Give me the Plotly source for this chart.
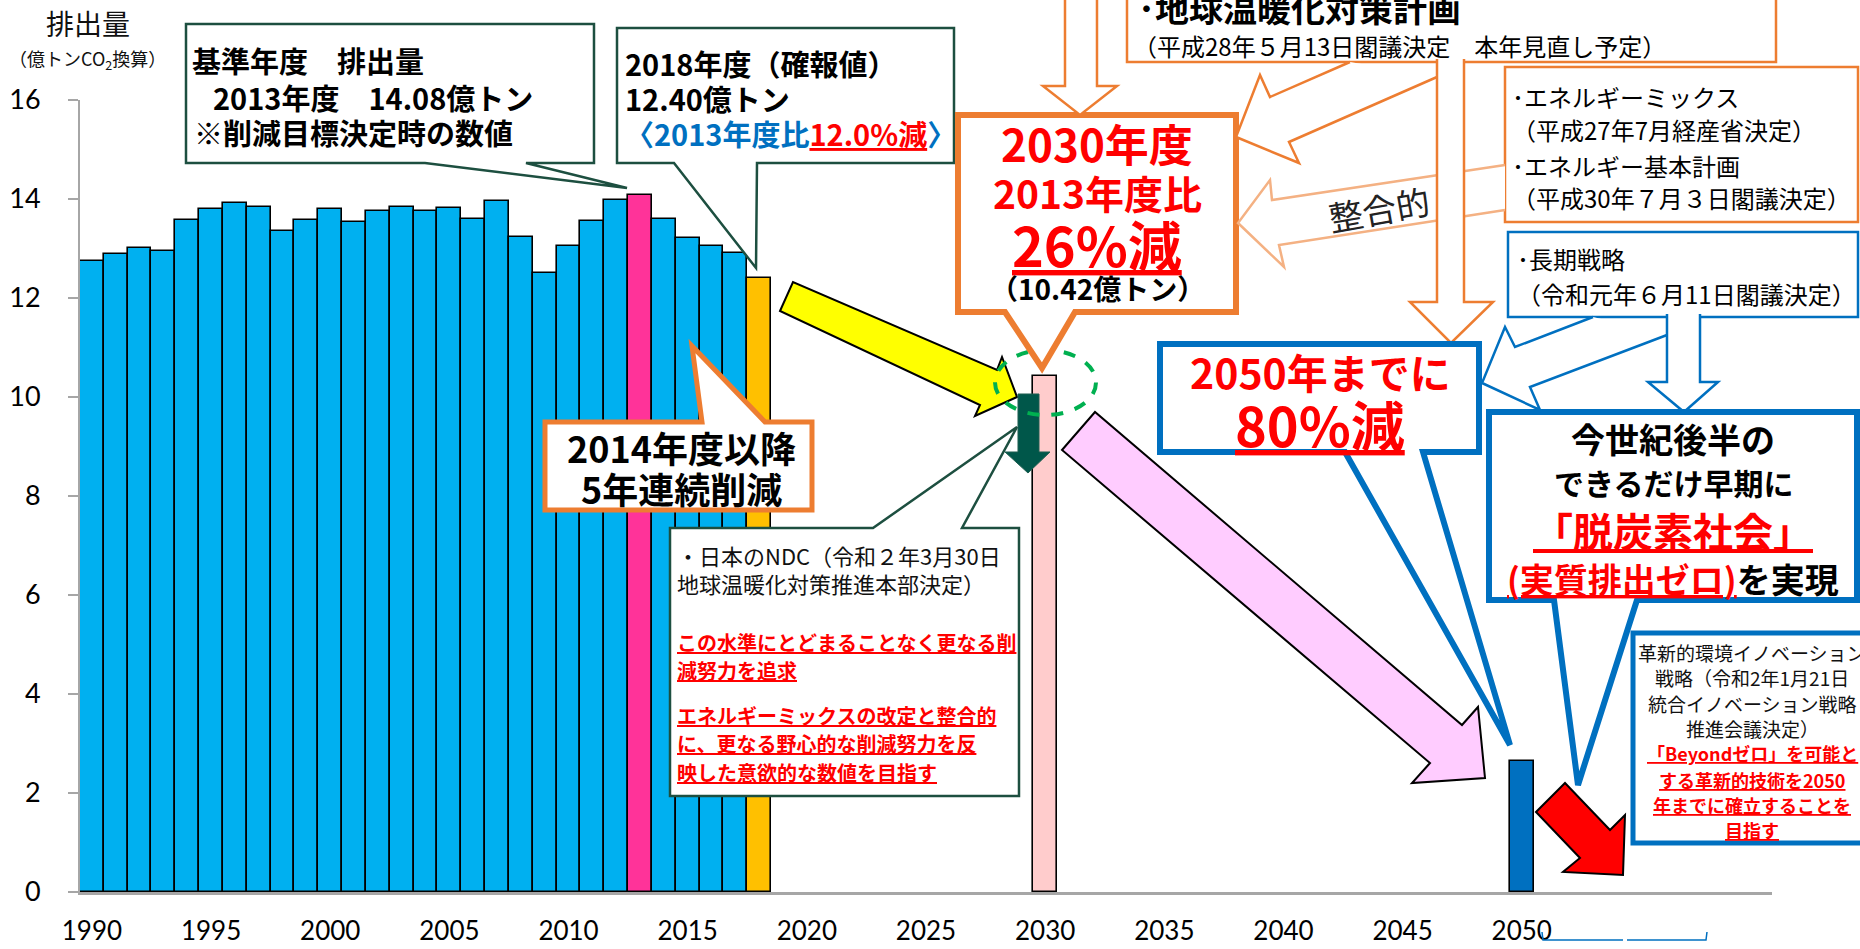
import plotly.graph_objects as go

# ---------------- data ----------------
hist_years = list(range(1990, 2019))
hist_values = [12.75, 12.89, 13.02, 12.94, 13.58, 13.79, 13.92, 13.84, 13.36, 13.58,
               13.79, 13.53, 13.76, 13.83, 13.75, 13.81, 13.60, 13.96, 13.24, 12.51,
               13.05, 13.56, 13.99, 14.08, 13.60, 13.22, 13.06, 12.91, 12.40]
target_years = [2030, 2050]
target_values = [10.42, 2.64]
x_tick_values = list(range(1990, 2051, 5))
y_tick_values = [0, 2, 4, 6, 8, 10, 12, 14, 16]

C_BLUE = "#00B0F0"
C_BASE = "#FF3399"
C_LATEST = "#FFC000"
C_2030 = "#FFCCCC"
C_2050 = "#0070C0"
RED = "#FF0000"
ORANGE = "#ED7D31"
LORANGE = "#F4B183"
DGREEN = "#1D4F40"
BLUE = "#0070C0"
FONT = "Noto Sans CJK JP"

years = hist_years + target_years
values = hist_values + target_values
colors = []
for yr in years:
    if yr == 2013:
        colors.append(C_BASE)
    elif yr == 2018:
        colors.append(C_LATEST)
    elif yr == 2030:
        colors.append(C_2030)
    elif yr == 2050:
        colors.append(C_2050)
    else:
        colors.append(C_BLUE)

# ---------------- geometry helpers (pixel -> paper) ----------------
FW, FH = 1860, 949
L, R, T, B = 80, 88, 100, 57
W = FW - L - R
H = FH - T - B


def px(x):
    return (x - L) / W


def py(y):
    return (FH - B - y) / H


def path(pts, close=True):
    s = "M" + " L".join(f"{px(x):.5f},{py(y):.5f}" for x, y in pts)
    return s + (" Z" if close else "")


shapes = []


def add_path(pts, line, width, fill="white", close=True, dash=None):
    ln = dict(color=line, width=width)
    if dash:
        ln["dash"] = dash
    shapes.append(dict(type="path", xref="paper", yref="paper", path=path(pts, close),
                       fillcolor=fill, line=ln, layer="above"))


def add_rect(x0, y0, x1, y1, line, width, fill="white"):
    shapes.append(dict(type="rect", xref="paper", yref="paper",
                       x0=px(x0), x1=px(x1), y0=py(y1), y1=py(y0),
                       fillcolor=fill, line=dict(color=line, width=width), layer="above"))


# callouts left
add_path([(186, 24), (594, 24), (594, 163), (526, 163), (627, 188), (425, 163), (186, 163)], DGREEN, 2.5)
add_path([(617, 28), (954, 28), (954, 163), (757, 163), (756, 268), (674, 163), (617, 163)], DGREEN, 2.5)
add_path([(545, 422), (702, 422), (692, 346), (765, 422), (812, 422), (812, 510), (545, 510)], ORANGE, 5)
add_path([(670, 528), (873, 528), (1017, 427), (962, 528), (1019, 528), (1019, 796), (670, 796)], DGREEN, 2.5)

# arrows near 2030
add_path([(780, 311), (793, 282), (997, 370), (1002, 357), (1017, 397), (975, 416), (980, 405)], "#000000", 2, fill="#FFFF00")
add_path([(1062, 450), (1095, 412), (1462, 725), (1478, 707), (1485, 778), (1412, 783), (1430, 763)], "#000000", 2, fill="#FFCCFF")
add_path([(1018, 394), (1039, 394), (1039, 452), (1050, 452), (1028, 473), (1005, 452), (1018, 452)], "#1F5F50", 1, fill="#00574A")
shapes.append(dict(type="circle", xref="paper", yref="paper", x0=px(995), x1=px(1096), y0=py(415), y1=py(350),
                   line=dict(color="#00B050", width=4, dash="dash"), layer="above"))

# 2030 box
add_path([(958, 115), (1236, 115), (1236, 312), (1075, 312), (1042, 368), (1005, 312), (958, 312)], ORANGE, 6)

# top-right boxes and orange arrows
add_rect(1127, -10, 1776, 62, ORANGE, 2.5)
add_rect(1505, 67, 1858, 222, ORANGE, 2.5)
add_path([(1065, -5), (1065, 86), (1043, 86), (1080, 115), (1117, 86), (1097, 86), (1097, -5)], ORANGE, 2.5, close=False)
add_path([(1350, 62), (1270, 97), (1260, 75), (1236, 137), (1299, 163), (1289, 142), (1437, 77)], ORANGE, 2.5, close=False)
add_path([(1505, 165), (1272, 200), (1270, 180), (1238, 223), (1284, 267), (1279, 245), (1505, 210)], LORANGE, 2.5, close=False)
add_path([(1437, 59), (1437, 302), (1410, 302), (1451, 343), (1493, 302), (1464, 302), (1464, 59)], ORANGE, 2.5, close=False)

# long-term strategy box and blue arrows
add_rect(1508, 232, 1858, 317, BLUE, 2.5)
add_path([(1593, 317), (1515, 347), (1505, 327), (1482, 383), (1540, 410), (1530, 387), (1667, 335)], BLUE, 2.5, close=False)
add_path([(1667, 314), (1667, 382), (1648, 382), (1684, 412), (1718, 382), (1700, 382), (1700, 314)], BLUE, 2.5, close=False)

# 2050 boxes
add_path([(1160, 344), (1479, 344), (1479, 452), (1423, 452), (1510, 745), (1345, 452), (1160, 452)], BLUE, 6)
add_path([(1489, 412), (1857, 412), (1857, 600), (1637, 600), (1578, 785), (1554, 600), (1489, 600)], BLUE, 6)
add_rect(1633, 633, 1866, 843, BLUE, 5)
add_path([(1536, 812), (1565, 783), (1610, 830), (1625, 815), (1623, 875), (1563, 872), (1580, 858)], "#000000", 2, fill="#FF0000")

# bottom bracket
shapes.append(dict(type="path", xref="paper", yref="paper",
                   path=path([(1542, 932), (1543, 940), (1623, 940)], False) + " " +
                   path([(1627, 940), (1706, 940), (1707, 932)], False),
                   line=dict(color=BLUE, width=1.5), layer="above"))

# ---------------- annotations ----------------
annotations = []


def txt(x, y, text, size, color="#000000", bold=False, anchor="left", angle=0):
    if bold:
        text = f"<b>{text}</b>"
    annotations.append(dict(x=px(x), y=py(y), xref="paper", yref="paper", text=text,
                            showarrow=False, xanchor=anchor, yanchor="middle", textangle=angle,
                            font=dict(family=FONT, size=size, color=color)))


txt(88, 23, "排出量", 28, "#111111", anchor="center")
txt(87, 60, "（億トンCO<sub>2</sub>換算）", 18, "#111111", anchor="center")

txt(190, 60, "基準年度　排出量", 29, bold=True)
txt(211, 97, "2013年度　14.08億トン", 29, bold=True)
txt(192, 132, "※削減目標決定時の数値", 29, bold=True)

txt(623, 63, "2018年度（確報値）", 29, bold=True)
txt(623, 98, "12.40億トン", 29, bold=True)
txt(623, 133, f"<span style='color:{BLUE}'>〈2013年度比</span><u>12.0%減</u><span style='color:{BLUE}'>〉</span>",
    29, RED, bold=True)

txt(681, 447, "2014年度以降", 36, bold=True, anchor="center")
txt(681, 488, "5年連続削減", 36, bold=True, anchor="center")

txt(675, 555, "・日本のNDC（令和２年3月30日", 22, "#111111")
txt(675, 583, "地球温暖化対策推進本部決定）", 22, "#111111")
for yy, line in [(642, "この水準にとどまることなく更なる削"), (670, "減努力を追求"),
                 (715, "エネルギーミックスの改定と整合的"), (743, "に、更なる野心的な削減努力を反"),
                 (772, "映した意欲的な数値を目指す")]:
    txt(675, yy, f"<u>{line}</u>", 20, RED, bold=True)

txt(1097, 143, "2030年度", 44, RED, bold=True, anchor="center")
txt(1097, 192, "2013年度比", 39, RED, bold=True, anchor="center")
txt(1097, 243, "<u>26%減</u>", 54, RED, bold=True, anchor="center")
txt(1097, 288, "（10.42億トン）", 28, bold=True, anchor="center")

txt(1136, 7, "･地球温暖化対策計画", 34, bold=True)
txt(1131, 45, "（平成28年５月13日閣議決定　本年見直し予定）", 24)
txt(1510, 97, "･エネルギーミックス", 24)
txt(1510, 130, "（平成27年7月経産省決定）", 24)
txt(1510, 165, "･エネルギー基本計画", 24)
txt(1510, 198, "（平成30年７月３日閣議決定）", 24)
txt(1379, 208, "整合的", 34, "#222222", anchor="center", angle=-10)
txt(1515, 258, "･長期戦略", 24)
txt(1515, 293, "（令和元年６月11日閣議決定）", 24)

txt(1320, 371, "2050年までに", 41, RED, bold=True, anchor="center")
txt(1320, 423, "<u>80%減</u>", 54, RED, bold=True, anchor="center")

txt(1673, 438, "今世紀後半の", 34, bold=True, anchor="center")
txt(1673, 482, "できるだけ早期に", 30, bold=True, anchor="center")
txt(1673, 530, "<u>「脱炭素社会」</u>", 40, RED, bold=True, anchor="center")
txt(1673, 578, f"<span style='color:{RED}'><u>(実質排出ゼロ)</u></span>を実現", 34, bold=True, anchor="center")

for yy, line in [(652, "革新的環境イノベーション"), (677, "戦略（令和2年1月21日"),
                 (703, "統合イノベーション戦略"), (728, "推進会議決定）")]:
    txt(1752, yy, line, 19, "#111111", anchor="center")
for yy, line in [(753, "「Beyondゼロ」を可能と"), (780, "する革新的技術を2050"),
                 (805, "年までに確立することを"), (830, "目指す")]:
    txt(1752, yy, f"<u>{line}</u>", 18, RED, bold=True, anchor="center")

# ---------------- figure ----------------
fig = go.Figure()
fig.add_trace(go.Bar(x=years, y=values, width=1,
                     marker=dict(color=colors, line=dict(color="#000000", width=1.6)),
                     hoverinfo="x+y"))

fig.update_layout(
    width=FW, height=FH,
    margin=dict(l=L, r=R, t=T, b=B, pad=0, autoexpand=False),
    plot_bgcolor="white", paper_bgcolor="white",
    showlegend=False, bargap=0,
    font=dict(family=FONT),
    xaxis=dict(range=[1989.5, 2060.5], tickmode="array", tickvals=x_tick_values,
               ticks="", showline=True, linecolor="#A6A6A6", linewidth=3,
               showgrid=False, zeroline=False, ticklabelstandoff=14, automargin=False,
               tickfont=dict(family="Lato", size=26, color="#000000")),
    yaxis=dict(range=[0, 16], tickmode="array", tickvals=y_tick_values,
               ticks="outside", ticklen=10, tickwidth=2, tickcolor="#A6A6A6",
               showline=True, linecolor="#A6A6A6", linewidth=2, automargin=False,
               showgrid=False, zeroline=False, ticklabelstandoff=22,
               tickfont=dict(family="Lato", size=27, color="#000000")),
    shapes=shapes,
    annotations=annotations,
)

fig.write_html("out.html", config={"displayModeBar": False},
               post_script="document.body.style.margin='0';document.body.style.overflow='hidden';")
